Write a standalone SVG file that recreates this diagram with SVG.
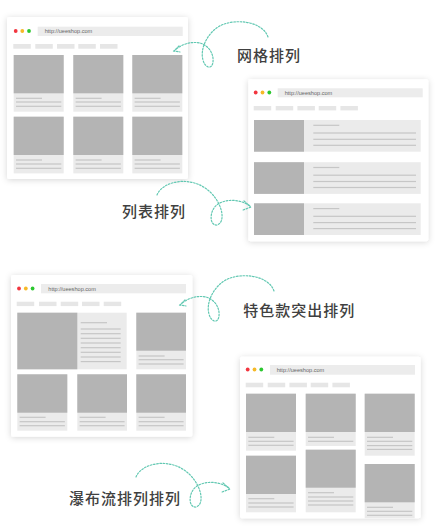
<svg xmlns="http://www.w3.org/2000/svg" width="435" height="531" viewBox="0 0 435 531">
<defs>
<filter id="sh" x="-10%" y="-10%" width="120%" height="120%">
<feDropShadow dx="0" dy="1" stdDeviation="3" flood-color="#000" flood-opacity="0.16"/>
</filter>
<clipPath id="c4"><rect x="240" y="356.7" width="180.7" height="161.6"/></clipPath>
</defs>
<style>
.win{fill:#fff;filter:url(#sh)}
.url{fill:#ececec}
.urlt{font-family:"Liberation Sans",Arial,sans-serif;font-size:5.6px;fill:#666}
.nav{fill:#e6e6e6}
.card{fill:#ebebeb}
.img{fill:#b4b4b4}
.ln{fill:#c6c6c6}
.r{fill:#f2353f}.y{fill:#f6b928}.g{fill:#2bc72f}
.lbl{font-family:"Noto Sans CJK SC","Noto Sans",sans-serif;font-size:15px;font-weight:500;fill:#404040;letter-spacing:1px}
.cv{fill:none;stroke:#62c8b2;stroke-width:1.2;stroke-dasharray:1.6 1.6;stroke-linecap:round}
</style>
<rect width="435" height="531" fill="#fff"/>

<g id="grid-window">
<rect class="win" x="7" y="17" width="181" height="162" rx="2"/>
<circle class="r" cx="15.7" cy="31" r="1.9"/><circle class="y" cx="22.3" cy="31" r="1.9"/><circle class="g" cx="29" cy="31" r="1.9"/>
<rect class="url" x="37.7" y="26.7" width="145" height="9.3"/>
<text class="urlt" x="44.7" y="33.4">http://ueeshop.com</text>
<rect class="nav" x="13.3" y="44" width="17.5" height="4.7"/><rect class="nav" x="35.3" y="44" width="17.5" height="4.7"/><rect class="nav" x="57" y="44" width="17.5" height="4.7"/><rect class="nav" x="78.3" y="44" width="17.5" height="4.7"/><rect class="nav" x="100" y="44" width="17.5" height="4.7"/>
<g>
<rect class="card" x="13.7" y="55" width="50" height="56.7"/><rect class="img" x="13.7" y="55" width="50" height="38.3"/>
<rect class="ln" x="16" y="97.7" width="26" height="1.2"/><rect class="ln" x="16" y="101.4" width="45.3" height="1.2"/><rect class="ln" x="16" y="105.7" width="45.3" height="1.2"/>
<rect class="card" x="73.3" y="55" width="50" height="56.7"/><rect class="img" x="73.3" y="55" width="50" height="38.3"/>
<rect class="ln" x="75.6" y="97.7" width="26" height="1.2"/><rect class="ln" x="75.6" y="101.4" width="45.3" height="1.2"/><rect class="ln" x="75.6" y="105.7" width="45.3" height="1.2"/>
<rect class="card" x="132.3" y="55" width="50" height="56.7"/><rect class="img" x="132.3" y="55" width="50" height="38.3"/>
<rect class="ln" x="134.6" y="97.7" width="26" height="1.2"/><rect class="ln" x="134.6" y="101.4" width="45.3" height="1.2"/><rect class="ln" x="134.6" y="105.7" width="45.3" height="1.2"/>
<rect class="card" x="13.7" y="116.7" width="50" height="56.7"/><rect class="img" x="13.7" y="116.7" width="50" height="38.3"/>
<rect class="ln" x="16" y="159.4" width="26" height="1.2"/><rect class="ln" x="16" y="163.4" width="45.3" height="1.2"/><rect class="ln" x="16" y="167.7" width="45.3" height="1.2"/>
<rect class="card" x="73.3" y="116.7" width="50" height="56.7"/><rect class="img" x="73.3" y="116.7" width="50" height="38.3"/>
<rect class="ln" x="75.6" y="159.4" width="26" height="1.2"/><rect class="ln" x="75.6" y="163.4" width="45.3" height="1.2"/><rect class="ln" x="75.6" y="167.7" width="45.3" height="1.2"/>
<rect class="card" x="132.3" y="116.7" width="50" height="56.7"/><rect class="img" x="132.3" y="116.7" width="50" height="38.3"/>
<rect class="ln" x="134.6" y="159.4" width="26" height="1.2"/><rect class="ln" x="134.6" y="163.4" width="45.3" height="1.2"/><rect class="ln" x="134.6" y="167.7" width="45.3" height="1.2"/>
</g>
</g>

<g id="list-window">
<rect class="win" x="248.3" y="79.3" width="180" height="162" rx="2"/>
<circle class="r" cx="255.7" cy="92.5" r="1.9"/><circle class="y" cx="262.5" cy="92.5" r="1.9"/><circle class="g" cx="269.3" cy="92.5" r="1.9"/>
<rect class="url" x="277.7" y="88.3" width="145" height="9"/>
<text class="urlt" x="284.7" y="94.9">http://ueeshop.com</text>
<rect class="nav" x="253.7" y="106" width="17.5" height="4.4"/><rect class="nav" x="275.7" y="106" width="17.5" height="4.4"/><rect class="nav" x="297.4" y="106" width="17.5" height="4.4"/><rect class="nav" x="318.7" y="106" width="17.5" height="4.4"/><rect class="nav" x="340.4" y="106" width="17.5" height="4.4"/>
<rect class="card" x="254" y="120" width="166.7" height="31.7"/><rect class="img" x="254" y="120" width="50" height="31.7"/>
<rect class="ln" x="313.3" y="124.7" width="26" height="1.2"/><rect class="ln" x="313.3" y="132.4" width="102.7" height="1.2"/><rect class="ln" x="313.3" y="138.7" width="102.7" height="1.2"/><rect class="ln" x="313.3" y="144.7" width="102.7" height="1.2"/>
<rect class="card" x="254" y="162.2" width="166.7" height="31.7"/><rect class="img" x="254" y="162.2" width="50" height="31.7"/>
<rect class="ln" x="313.3" y="166.9" width="26" height="1.2"/><rect class="ln" x="313.3" y="174.6" width="102.7" height="1.2"/><rect class="ln" x="313.3" y="180.9" width="102.7" height="1.2"/><rect class="ln" x="313.3" y="186.9" width="102.7" height="1.2"/>
<rect class="card" x="254" y="203.3" width="166.7" height="31.7"/><rect class="img" x="254" y="203.3" width="50" height="31.7"/>
<rect class="ln" x="313.3" y="208" width="26" height="1.2"/><rect class="ln" x="313.3" y="215.7" width="102.7" height="1.2"/><rect class="ln" x="313.3" y="222" width="102.7" height="1.2"/><rect class="ln" x="313.3" y="228" width="102.7" height="1.2"/>
</g>

<g id="featured-window">
<rect class="win" x="11" y="275" width="181.3" height="161.7" rx="2"/>
<circle class="r" cx="19" cy="288.5" r="1.9"/><circle class="y" cx="25.8" cy="288.5" r="1.9"/><circle class="g" cx="32.6" cy="288.5" r="1.9"/>
<rect class="url" x="41" y="284" width="145" height="9.3"/>
<text class="urlt" x="48.3" y="290.8">http://ueeshop.com</text>
<rect class="nav" x="16.7" y="301.7" width="17.5" height="4.4"/><rect class="nav" x="39" y="301.7" width="17.5" height="4.4"/><rect class="nav" x="60.7" y="301.7" width="17.5" height="4.4"/><rect class="nav" x="82" y="301.7" width="17.5" height="4.4"/><rect class="nav" x="103.7" y="301.7" width="17.5" height="4.4"/>
<rect class="card" x="17.3" y="312.7" width="109.4" height="56.6"/><rect class="img" x="17.3" y="312.7" width="60" height="56.6"/>
<rect class="ln" x="80.7" y="322.1" width="26.3" height="1.2"/>
<rect class="ln" x="80.7" y="328.4" width="40" height="1.2"/><rect class="ln" x="80.7" y="333.1" width="40" height="1.2"/><rect class="ln" x="80.7" y="337.7" width="40" height="1.2"/><rect class="ln" x="80.7" y="342.4" width="40" height="1.2"/><rect class="ln" x="80.7" y="347.1" width="40" height="1.2"/><rect class="ln" x="80.7" y="351.7" width="40" height="1.2"/><rect class="ln" x="80.7" y="356.4" width="40" height="1.2"/><rect class="ln" x="80.7" y="361" width="40" height="1.2"/>
<rect class="card" x="136.3" y="312.7" width="49.7" height="56.6"/><rect class="img" x="136.3" y="312.7" width="49.7" height="38"/>
<rect class="ln" x="138.6" y="355.4" width="26" height="1.2"/><rect class="ln" x="138.6" y="359.1" width="45" height="1.2"/><rect class="ln" x="138.6" y="363.4" width="45" height="1.2"/>
<rect class="card" x="17.3" y="374.3" width="50" height="56.4"/><rect class="img" x="17.3" y="374.3" width="50" height="38.4"/>
<rect class="ln" x="19.6" y="416.7" width="26" height="1.2"/><rect class="ln" x="19.6" y="421.1" width="45.3" height="1.2"/><rect class="ln" x="19.6" y="425.1" width="45.3" height="1.2"/>
<rect class="card" x="77.3" y="374.3" width="49.7" height="56.4"/><rect class="img" x="77.3" y="374.3" width="49.7" height="38.4"/>
<rect class="ln" x="79.6" y="416.7" width="26" height="1.2"/><rect class="ln" x="79.6" y="421.1" width="45" height="1.2"/><rect class="ln" x="79.6" y="425.1" width="45" height="1.2"/>
<rect class="card" x="136.3" y="374.3" width="49.7" height="56.4"/><rect class="img" x="136.3" y="374.3" width="49.7" height="38.4"/>
<rect class="ln" x="138.6" y="416.7" width="26" height="1.2"/><rect class="ln" x="138.6" y="421.1" width="45" height="1.2"/><rect class="ln" x="138.6" y="425.1" width="45" height="1.2"/>
</g>

<g id="waterfall-window">
<rect class="win" x="240" y="356.7" width="180.7" height="161.6" rx="2"/>
<circle class="r" cx="247.7" cy="369.5" r="1.9"/><circle class="y" cx="254.5" cy="369.5" r="1.9"/><circle class="g" cx="261.3" cy="369.5" r="1.9"/>
<rect class="url" x="270" y="365" width="145" height="9.7"/>
<text class="urlt" x="276.7" y="371.9">http://ueeshop.com</text>
<rect class="nav" x="245.7" y="382.7" width="17.5" height="4.6"/><rect class="nav" x="267.7" y="382.7" width="17.5" height="4.6"/><rect class="nav" x="289.4" y="382.7" width="17.5" height="4.6"/><rect class="nav" x="310.7" y="382.7" width="17.5" height="4.6"/><rect class="nav" x="332.4" y="382.7" width="17.5" height="4.6"/>
<g clip-path="url(#c4)">
<rect class="card" x="246" y="393.7" width="50" height="57"/><rect class="img" x="246" y="393.7" width="50" height="38.3"/>
<rect class="ln" x="248.3" y="436.7" width="26" height="1.2"/><rect class="ln" x="248.3" y="440.7" width="45.3" height="1.2"/><rect class="ln" x="248.3" y="444.7" width="45.3" height="1.2"/>
<rect class="card" x="246" y="455.7" width="50" height="56.6"/><rect class="img" x="246" y="455.7" width="50" height="38.3"/>
<rect class="ln" x="248.3" y="498.1" width="26" height="1.2"/><rect class="ln" x="248.3" y="502.4" width="45.3" height="1.2"/><rect class="ln" x="248.3" y="506.4" width="45.3" height="1.2"/>
<rect class="card" x="305.7" y="393.7" width="50" height="52.3"/><rect class="img" x="305.7" y="393.7" width="50" height="38.3"/>
<rect class="ln" x="308" y="436.7" width="26" height="1.2"/><rect class="ln" x="308" y="440.7" width="45.3" height="1.2"/>
<rect class="card" x="305.7" y="449.7" width="50" height="62.6"/><rect class="img" x="305.7" y="449.7" width="50" height="38"/>
<rect class="ln" x="308" y="492.1" width="26" height="1.2"/><rect class="ln" x="308" y="496.4" width="45.3" height="1.2"/><rect class="ln" x="308" y="500.4" width="45.3" height="1.2"/><rect class="ln" x="308" y="504.4" width="45.3" height="1.2"/>
<rect class="card" x="364.7" y="393.7" width="50" height="62"/><rect class="img" x="364.7" y="393.7" width="50" height="38.3"/>
<rect class="ln" x="367" y="436.7" width="26" height="1.2"/><rect class="ln" x="367" y="440.7" width="45.3" height="1.2"/><rect class="ln" x="367" y="445" width="45.3" height="1.2"/><rect class="ln" x="367" y="448.8" width="45.3" height="1.2"/>
<rect class="card" x="364.7" y="464" width="50" height="56"/><rect class="img" x="364.7" y="464" width="50" height="38.3"/>
<rect class="ln" x="367" y="506.7" width="26" height="1.2"/><rect class="ln" x="367" y="510.7" width="45.3" height="1.2"/><rect class="ln" x="367" y="514.7" width="45.3" height="1.2"/>
</g>
</g>

<g id="connectors">
<g id="curve-grid">
<path class="cv" d="M268,37 C262,20 232,18 218,27 C206,35 200,50 203,60 C205,68 212,70 213,62 C214,52 207,45 200,43 C190,41 180,45 174,51"/>
<path class="cv" d="M179,46 L174,51 L180,52"/>
</g>
<g id="curve-list">
<path class="cv" d="M157,195 C163,180 195,174 213,195 C222,205 226,222 217,225 C209,226 209,210 218,204 C228,198 242,200 250,206"/>
<path class="cv" d="M244,201 L251,207 L243,210"/>
</g>
<g id="curve-featured" transform="translate(6,254)">
<path class="cv" d="M268,37 C262,20 232,18 218,27 C206,35 200,50 203,60 C205,68 212,70 213,62 C214,52 207,45 200,43 C190,41 180,45 174,51"/>
<path class="cv" d="M179,46 L174,51 L180,52"/>
</g>
<g id="curve-waterfall" transform="translate(-21,282)">
<path class="cv" d="M157,195 C163,180 195,174 213,195 C222,205 226,222 217,225 C209,226 209,210 218,204 C228,198 242,200 250,206"/>
<path class="cv" d="M244,201 L251,207 L243,210"/>
</g>
</g>

<g id="label-grid"><text class="lbl" x="237" y="61">网格排列</text></g>
<g id="label-list"><text class="lbl" x="122" y="216.5">列表排列</text></g>
<g id="label-featured"><text class="lbl" x="243.3" y="315.8">特色款突出排列</text></g>
<g id="label-waterfall"><text class="lbl" x="69" y="504">瀑布流排列排列</text></g>
</svg>
